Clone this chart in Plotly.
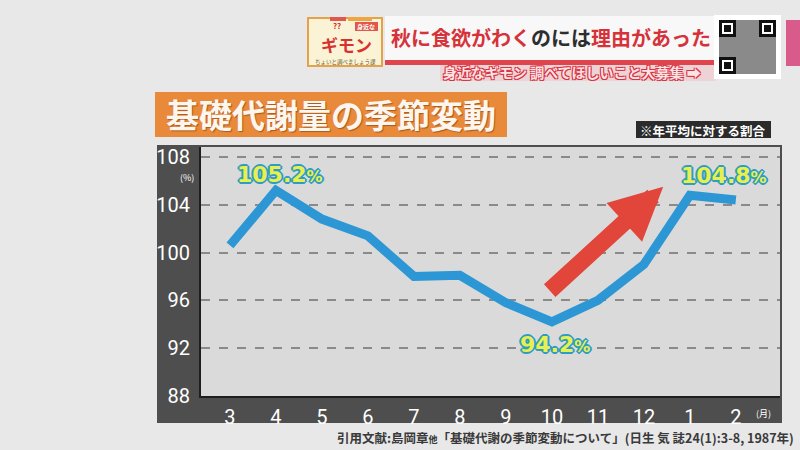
import plotly.graph_objects as go

# 基礎代謝量の季節変動 (年平均に対する割合, %)
months = ["3", "4", "5", "6", "7", "8", "9", "10", "11", "12", "1", "2"]
bmr_ratio = [100.6, 105.2, 102.8, 101.4, 98.0, 98.1, 95.8, 94.2, 96.0, 99.0, 104.8, 104.4]
y_ticks = [88, 92, 96, 100, 104, 108]

W, H = 800, 450
JP = "Noto Sans CJK JP"
NUM = "Roboto"


def px(x):
    return x / W


def py(y):
    return 1 - y / H


label_shadow = ("2px 0 0 #2f9cc4, -2px 0 0 #2f9cc4, 0 2px 0 #2f9cc4, 0 -2px 0 #2f9cc4,"
                "1px 1px 0 #2f9cc4, -1px -1px 0 #2f9cc4, 1px -1px 0 #2f9cc4, -1px 1px 0 #2f9cc4")

fig = go.Figure()
fig.add_trace(go.Scatter(
    x=list(range(len(months))), y=bmr_ratio, mode="lines",
    line=dict(color="#2c97d4", width=9, shape="linear"),
    hoverinfo="skip", showlegend=False,
))


def box(x0, x1, y0, y1, color, **kw):
    return dict(type="rect", xref="paper", yref="paper", x0=px(x0), x1=px(x1),
                y0=py(y1), y1=py(y0), fillcolor=color, line=dict(width=0), layer="below", **kw)


shapes = [
    box(157, 782, 145, 423, "#4e4e4e"),      # dark frame behind the axes
    box(201, 780, 147, 396, "#dadada"),      # inner plot panel
    box(155, 507, 92, 137, "#e9893a"),       # title box
    box(636, 771, 121, 138, "#2b2b2b"),      # note box
    box(385, 716, 16, 61, "#f8f8f8"),        # banner white area
    box(385, 716, 60, 65, "#e0454d"),        # banner red underline
    box(440, 716, 65, 81, "#f0c4c8", opacity=0.6),
    box(307, 383, 17, 67, "#e6a24a"),        # logo
    box(309, 381, 19, 65, "#fbf3d6"),
    box(330, 346, 17, 21, "#e2574c"),
    box(348, 372, 17, 21, "#f0a640"),
    box(355, 378, 22, 31, "#e2574c"),
    box(714, 781, 15, 79, "#ffffff"),        # QR block
    box(719, 776, 20, 74, "#8a8a8a"),
    box(786, 800, 20, 66, "#d95b8c"),        # pink edge at right
]
for qx, qy in [(719, 20), (759, 20), (719, 57)]:
    shapes.append(box(qx, qx + 17, qy, qy + 17, "#111111"))
    shapes.append(box(qx + 3, qx + 14, qy + 3, qy + 14, "#ffffff"))
    shapes.append(box(qx + 5, qx + 12, qy + 5, qy + 12, "#111111"))


def note(x, y, text, size, color, family=JP, **kw):
    return dict(xref="paper", yref="paper", x=px(x), y=py(y), text=text, showarrow=False,
                xanchor=kw.pop("xanchor", "center"), yanchor="middle",
                font=dict(family=family, size=size, color=color, **kw.pop("font", {})), **kw)


annotations = [
    note(331, 114, "<b>基礎代謝量の季節変動</b>", 33, "#fdf6ee",
         font=dict(shadow="1px 1px 1px #a85a1c")),
    note(703, 130, "<b>※年平均に対する割合</b>", 12.5, "#ffffff"),
    note(551, 38, "<b><span style='color:#d6323a'>秋に食欲がわく</span>"
                  "<span style='color:#2e2e2e'>のには</span>"
                  "<span style='color:#d6323a'>理由があった</span></b>", 20, "#d6323a"),
    note(572, 72, "<b>身近なギモン 調べてほしいこと大募集 ➡</b>", 14, "#fbe3e6",
         font=dict(shadow="1px 1px 0 #d8323f, -1px -1px 0 #d8323f, 1px -1px 0 #d8323f, -1px 1px 0 #d8323f")),
    note(346, 45, "<b>ギモン</b>", 17, "#d8322e"),
    note(337, 25, "<b>??</b>", 8, "#d8322e"),
    note(366, 26.5, "<b>身近な</b>", 6, "#ffffff"),
    note(345, 62, "ちょいと調べましょう課", 5.5, "#6a5a2a"),
    note(187, 177, "(%)", 9, "#ffffff"),
    note(763, 413, "(月)", 9, "#ffffff"),
    note(796, 437, "<b>引用文献:島岡章<span style='font-size:9px'>他</span>「基礎代謝の季節変動について」"
                   "(日生 気 誌24(1):3-8, 1987年)</b>", 12.5, "#3a3a3a", xanchor="right"),
    # red arrow
    dict(xref="x", yref="y", axref="x", ayref="y",
         x=9.42, y=105.5, ax=6.92, ay=96.7, text="", showarrow=True,
         arrowhead=2, arrowsize=0.62, arrowwidth=17, arrowcolor="#e2453a", standoff=0),
]

# value labels on the max/min points
for idx, xs, ys in [(1, 4, 16), (7, 3, -23), (10, 34, 20)]:
    annotations.append(dict(
        x=idx, y=bmr_ratio[idx], xref="x", yref="y",
        text=f"<b>{bmr_ratio[idx]:.1f}<span style='font-size:16px'>%</span></b>",
        showarrow=False, xshift=xs, yshift=ys,
        font=dict(family="DejaVu Sans", size=22, color="#e7f04c", shadow=label_shadow),
    ))

fig.update_layout(
    width=W, height=H,
    margin=dict(l=0, r=0, t=0, b=0),
    paper_bgcolor="#e8e8e8",
    plot_bgcolor="rgba(0,0,0,0)",
    shapes=shapes,
    annotations=annotations,
    showlegend=False,
    xaxis=dict(
        domain=[px(201), px(780)],
        tickvals=list(range(len(months))), ticktext=months,
        range=[-0.63, 11.96],
        showgrid=False, zeroline=False,
        showline=True, linecolor="#1e1e1e", linewidth=2,
        ticks="", ticklabelstandoff=2,
        tickfont=dict(family=NUM, size=20, color="#ffffff"),
        automargin=False, fixedrange=True,
    ),
    yaxis=dict(
        domain=[py(396), py(147)],
        range=[88, 108.83],
        tickvals=y_ticks, ticktext=[str(v) for v in y_ticks],
        showgrid=True, gridcolor="#8a8a8a", gridwidth=1.5, griddash="dash",
        zeroline=False,
        showline=True, linecolor="#1e1e1e", linewidth=2,
        ticks="", ticklabelstandoff=5,
        tickfont=dict(family=NUM, size=20, color="#ffffff"),
        automargin=False, fixedrange=True,
    ),
)

fig.write_html("out.html", config={"displayModeBar": False},
               post_script="document.body.style.margin='0';")
